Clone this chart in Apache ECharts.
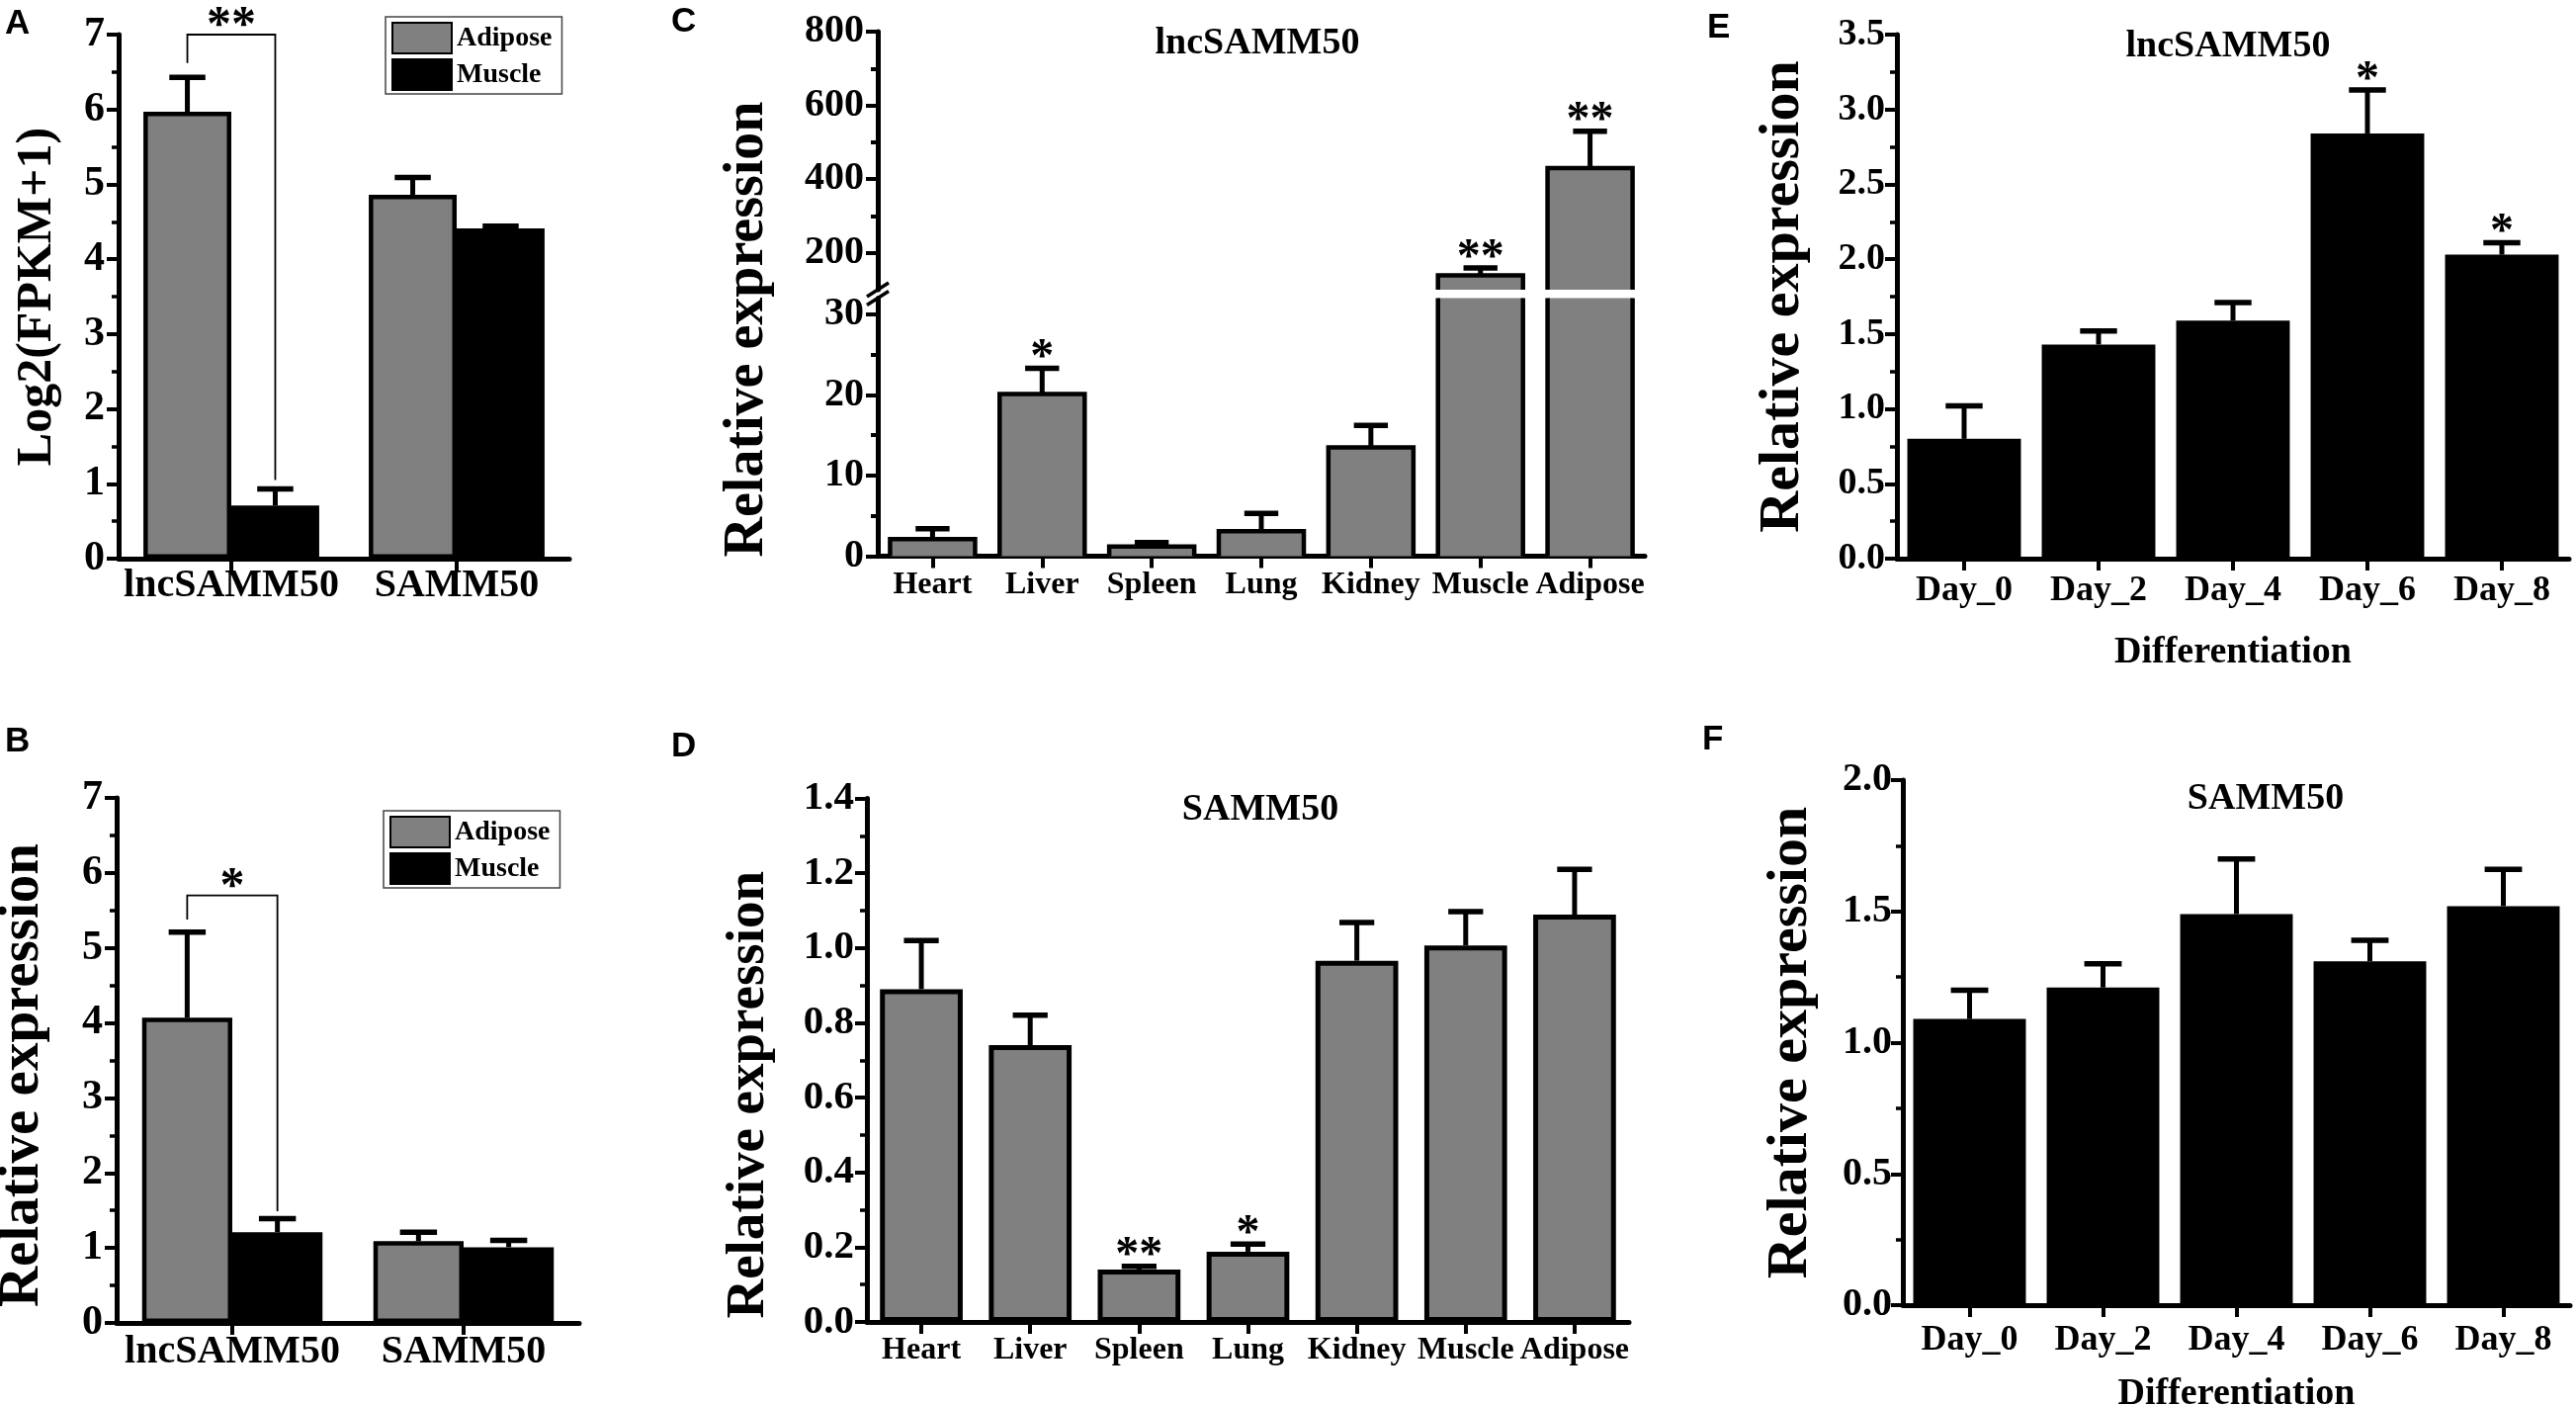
<!DOCTYPE html>
<html>
<head>
<meta charset="utf-8">
<title>lncSAMM50 and SAMM50 expression</title>
<script src="https://cdn.jsdelivr.net/npm/echarts@6/dist/echarts.min.js"></script>
<style>
  html, body { margin: 0; padding: 0; background: #fff; }
  #main { width: 2606px; height: 1422px; }
</style>
</head>
<body>
<div id="main"></div>
<script>
// A: RNA-seq, Log2(FPKM+1)
const geneCats = ['lncSAMM50', 'SAMM50'];
const fpkmAdipose = [5.97, 4.86];
const fpkmAdiposeErr = [0.46, 0.23];
const fpkmMuscle = [0.71, 4.41];
const fpkmMuscleErr = [0.22, 0.03];
const bracketA = [7.0, 6.62, 1.05]; // top, left foot, right foot

// B: qPCR, adipose vs muscle
const qpcrAdipose = [4.07, 1.09];
const qpcrAdiposeErr = [1.14, 0.12];
const qpcrMuscle = [1.21, 1.01];
const qpcrMuscleErr = [0.18, 0.09];
const bracketB = [5.70, 5.38, 1.49];

// C / D: tissue distribution
const tissues = ['Heart', 'Liver', 'Spleen', 'Lung', 'Kidney', 'Muscle', 'Adipose'];
const lncTissue = [2.1, 20.1, 1.2, 3.1, 13.5, 139, 430];
const lncTissueErr = [1.3, 3.2, 0.5, 2.2, 2.7, 20, 100];
const lncTissueSig = ['', '*', '', '', '', '**', '**'];
const cLowerMax = 32;   // top of the lower axis segment
const cUpperMin = 100;  // bottom of the upper axis segment
const cUpperTicks = [200, 400, 600, 800];
const cUpperMinor = [300, 500, 700];
const cLowerTicks = [0, 10, 20, 30];
const cLowerMinor = [5, 15, 25];

const samTissue = [0.89, 0.74, 0.14, 0.188, 0.966, 1.007, 1.089];
const samTissueErr = [0.13, 0.08, 0.009, 0.02, 0.102, 0.09, 0.121];
const samTissueSig = ['', '', '**', '*', '', '', ''];

// E / F: adipocyte differentiation
const days = ['Day_0', 'Day_2', 'Day_4', 'Day_6', 'Day_8'];
const lncDiff = [0.80, 1.43, 1.59, 2.84, 2.03];
const lncDiffErr = [0.22, 0.09, 0.12, 0.29, 0.08];
const lncDiffSig = ['', '', '', '*', '*'];
const samDiff = [1.09, 1.21, 1.49, 1.31, 1.52];
const samDiffErr = [0.11, 0.09, 0.21, 0.08, 0.14];

const SERIF = '"Liberation Serif", "Times New Roman", serif';
const SANS = '"Liberation Sans", Arial, sans-serif';
const GRAY = '#808080';
const INK = '#000';

function txt(size) {
  return { color: INK, fontFamily: SERIF, fontWeight: 'bold', fontSize: size };
}

function rows(vals, errs) {
  return vals.map((v, i) => [i, v, errs[i]]);
}

function catAxis(grid, data, size, margin, more) {
  return Object.assign({
    type: 'category', gridIndex: grid, data: data,
    axisLine: { show: true, lineStyle: { color: INK, width: 5 } },
    axisTick: { show: true, alignWithLabel: true, length: 12, lineStyle: { color: INK, width: 4 } },
    axisLabel: Object.assign(txt(size), { margin: margin, interval: 0 }),
    splitLine: { show: false }
  }, more || {});
}

function valAxis(grid, o) {
  return {
    type: 'value', gridIndex: grid, position: 'left',
    min: o.min, max: o.max, interval: o.interval,
    name: o.name || '', nameLocation: 'middle', nameRotate: 90, nameGap: o.nameGap || 0,
    nameTextStyle: Object.assign(txt(o.nameSize || 50), { padding: o.namePad || 0 }),
    axisLine: { show: o.line !== false, lineStyle: { color: INK, width: 5 } },
    axisTick: { show: true, length: o.tickLen || 12, lineStyle: { color: INK, width: 4 }, customValues: o.ticks },
    minorTick: { show: !!o.minor, splitNumber: 2, length: 7, lineStyle: { color: INK, width: 3.5 } },
    axisLabel: Object.assign(txt(o.labelSize || 40), {
      show: o.labels !== false, margin: o.margin || 14, formatter: o.fmt, customValues: o.labelValues
    }),
    splitLine: { show: false }
  };
}

// upper error bar with cap, optional significance mark above the cap
function errorBar(offset, capFrac, marks, markSize) {
  return function (params, api) {
    const i = api.value(0), v = api.value(1), e = api.value(2);
    const catW = api.size([1, 0])[0];
    const low = api.coord([i, v]);
    const high = api.coord([i, v + e]);
    const x = low[0] + offset * catW;
    const half = capFrac * catW / 2;
    const parts = [
      { type: 'line', shape: { x1: x, y1: low[1], x2: x, y2: high[1] }, style: { stroke: INK, lineWidth: 5 } },
      { type: 'line', shape: { x1: x - half, y1: high[1], x2: x + half, y2: high[1] }, style: { stroke: INK, lineWidth: 5.5 } }
    ];
    const mark = marks ? marks[i] : '';
    if (mark) {
      parts.push({
        type: 'text', x: x, y: high[1] - 7 - 0.06 * markSize,
        style: { text: mark, fill: INK, font: 'bold ' + markSize + 'px ' + SERIF, align: 'center', verticalAlign: 'middle' }
      });
    }
    return { type: 'group', children: parts };
  };
}

// bracket between the two bars of one category
function bracket(offset, mark, markSize) {
  return function (params, api) {
    const i = api.value(0);
    const top = api.coord([i, api.value(1)]);
    const footL = api.coord([i, api.value(2)])[1];
    const footR = api.coord([i, api.value(3)])[1];
    const catW = api.size([1, 0])[0];
    const xl = top[0] - offset * catW, xr = top[0] + offset * catW;
    return {
      type: 'group', children: [
        { type: 'polyline', shape: { points: [[xl, footL], [xl, top[1]], [xr, top[1]], [xr, footR]] },
          style: { stroke: INK, lineWidth: 1.8, fill: 'none' } },
        { type: 'text', x: (xl + xr) / 2, y: top[1] - 5 - 0.06 * markSize,
          style: { text: mark, fill: INK, font: 'bold ' + markSize + 'px ' + SERIF, align: 'center', verticalAlign: 'middle' } }
      ]
    };
  };
}

// bar clipped to its grid without drawing an outline on the cut edge (broken axis)
function brokenBar(widthFrac) {
  return function (params, api) {
    const i = api.value(0), v = api.value(1);
    const cs = params.coordSys;
    const w = api.size([1, 0])[0] * widthFrac;
    const base = api.coord([i, 0]);
    const peak = api.coord([i, v]);
    const x0 = base[0] - w / 2, x1 = base[0] + w / 2;
    const yBottom = Math.min(base[1], cs.y + cs.height);
    const yTop = Math.max(peak[1], cs.y);
    if (yTop >= yBottom) return null;
    const edge = { stroke: INK, lineWidth: 4.5, fill: 'none' };
    const outline = peak[1] < cs.y
      ? [{ type: 'line', shape: { x1: x0, y1: yBottom, x2: x0, y2: yTop }, style: edge },
         { type: 'line', shape: { x1: x1, y1: yBottom, x2: x1, y2: yTop }, style: edge }]
      : [{ type: 'polyline', shape: { points: [[x0, yBottom], [x0, yTop], [x1, yTop], [x1, yBottom]] }, style: edge }];
    return {
      type: 'group',
      children: [{ type: 'rect', shape: { x: x0, y: yTop, width: w, height: yBottom - yTop }, style: { fill: GRAY } }].concat(outline)
    };
  };
}

const fmt1 = v => v.toFixed(1);
const lncTissueRows = rows(lncTissue, lncTissueErr);

function grid(left, top, width, height) {
  return { left: left, top: top, width: width, height: height, containLabel: false, outerBoundsMode: 'none' };
}

function label(text, x, y, font, align) {
  return { type: 'text', x: x, y: y, style: { text: text, font: font, fill: INK, align: align || 'left', verticalAlign: 'top' } };
}

const letterFont = 'bold 35px ' + SANS;
const titleFont = 'bold 38px ' + SERIF;

const legendBase = {
  orient: 'vertical', data: ['Adipose', 'Muscle'], icon: 'rect',
  itemWidth: 60, itemHeight: 31, itemGap: 4, padding: [5, 10, 3, 6],
  borderColor: '#444', borderWidth: 1.5, selectedMode: false,
  textStyle: txt(28)
};

const option = {
  animation: false,
  backgroundColor: '#fff',
  grid: [
    grid(120, 35, 456, 530),      // A
    grid(118, 807, 468, 531),     // B
    grid(888, 32, 776, 261),      // C upper segment
    grid(888, 301.5, 776, 261),   // C lower segment
    grid(877, 807.5, 771, 529.5), // D
    grid(1919, 35, 680, 530),     // E
    grid(1925, 789, 675, 531)     // F
  ],
  legend: [
    Object.assign({ left: 390, top: 17 }, legendBase),
    Object.assign({ left: 388, top: 820 }, legendBase)
  ],
  xAxis: [
    catAxis(0, geneCats, 40, 8),
    catAxis(1, geneCats, 40, 10),
    catAxis(2, tissues, 32, 13, { show: false }),
    catAxis(3, tissues, 32, 13),
    catAxis(4, tissues, 32, 13),
    catAxis(5, days, 36, 15, { name: 'Differentiation', nameLocation: 'middle', nameGap: 76, nameTextStyle: txt(38) }),
    catAxis(6, days, 36, 18, { name: 'Differentiation', nameLocation: 'middle', nameGap: 71, nameTextStyle: txt(38) })
  ],
  yAxis: [
    valAxis(0, { min: 0, max: 7, interval: 1, minor: true, name: 'Log2(FPKM+1)', nameSize: 50, nameGap: 57, labelSize: 42, margin: 14 }),
    valAxis(1, { min: 0, max: 7, interval: 1, minor: true, name: 'Relative expression', nameSize: 57, nameGap: 66,
      namePad: [0, 30, 0, 0], labelSize: 42, margin: 14 }),
    valAxis(2, { min: cUpperMin, max: 800, ticks: cUpperTicks, labelValues: cUpperTicks, labelSize: 40, margin: 14 }),
    valAxis(3, { min: 0, max: cLowerMax, ticks: cLowerTicks, labelValues: cLowerTicks, labelSize: 40, margin: 14,
      name: 'Relative expression', nameSize: 56, nameGap: 103, namePad: [0, 0, 0, 198] }),
    valAxis(4, { min: 0, max: 1.4, interval: 0.2, minor: true, fmt: fmt1, labelSize: 41, margin: 13,
      name: 'Relative expression', nameSize: 55, nameGap: 92, namePad: [0, 70, 0, 0] }),
    valAxis(5, { min: 0, max: 3.5, interval: 0.5, minor: true, fmt: fmt1, labelSize: 38, margin: 12,
      name: 'Relative expression', nameSize: 58, nameGap: 86 }),
    valAxis(6, { min: 0, max: 2, interval: 0.5, minor: true, fmt: fmt1, labelSize: 40, margin: 11,
      name: 'Relative expression', nameSize: 58, nameGap: 84 }),
    valAxis(2, { min: cUpperMin, max: 800, line: false, labels: false, ticks: cUpperMinor, tickLen: 7 }),
    valAxis(3, { min: 0, max: cLowerMax, line: false, labels: false, ticks: cLowerMinor, tickLen: 7 })
  ],
  series: [
    // A
    { name: 'Adipose', type: 'bar', xAxisIndex: 0, yAxisIndex: 0, data: fpkmAdipose, barGap: '0%', barCategoryGap: '22%',
      itemStyle: { color: GRAY, borderColor: INK, borderWidth: 4.5 } },
    { name: 'Muscle', type: 'bar', xAxisIndex: 0, yAxisIndex: 0, data: fpkmMuscle, barGap: '0%', barCategoryGap: '22%',
      itemStyle: { color: INK, borderColor: INK, borderWidth: 4.5 } },
    { type: 'custom', xAxisIndex: 0, yAxisIndex: 0, z: 3, renderItem: errorBar(-0.195, 0.16), data: rows(fpkmAdipose, fpkmAdiposeErr) },
    { type: 'custom', xAxisIndex: 0, yAxisIndex: 0, z: 3, renderItem: errorBar(0.195, 0.16), data: rows(fpkmMuscle, fpkmMuscleErr) },
    { type: 'custom', xAxisIndex: 0, yAxisIndex: 0, z: 3, renderItem: bracket(0.195, '**', 50), data: [[0].concat(bracketA)] },
    // B
    { name: 'Adipose', type: 'bar', xAxisIndex: 1, yAxisIndex: 1, data: qpcrAdipose, barGap: '0%', barCategoryGap: '22%',
      itemStyle: { color: GRAY, borderColor: INK, borderWidth: 4.5 } },
    { name: 'Muscle', type: 'bar', xAxisIndex: 1, yAxisIndex: 1, data: qpcrMuscle, barGap: '0%', barCategoryGap: '22%',
      itemStyle: { color: INK, borderColor: INK, borderWidth: 4.5 } },
    { type: 'custom', xAxisIndex: 1, yAxisIndex: 1, z: 3, renderItem: errorBar(-0.195, 0.16), data: rows(qpcrAdipose, qpcrAdiposeErr) },
    { type: 'custom', xAxisIndex: 1, yAxisIndex: 1, z: 3, renderItem: errorBar(0.195, 0.16), data: rows(qpcrMuscle, qpcrMuscleErr) },
    { type: 'custom', xAxisIndex: 1, yAxisIndex: 1, z: 3, renderItem: bracket(0.195, '*', 50), data: [[0].concat(bracketB)] },
    // C (broken axis: two segments)
    { type: 'custom', xAxisIndex: 2, yAxisIndex: 2, renderItem: brokenBar(0.776), data: lncTissue.map((v, i) => [i, v]) },
    { type: 'custom', xAxisIndex: 3, yAxisIndex: 3, renderItem: brokenBar(0.776), data: lncTissue.map((v, i) => [i, v]) },
    { type: 'custom', xAxisIndex: 2, yAxisIndex: 2, z: 3, renderItem: errorBar(0, 0.31, lncTissueSig, 48),
      data: lncTissueRows.filter(r => r[1] > cLowerMax) },
    { type: 'custom', xAxisIndex: 3, yAxisIndex: 3, z: 3, renderItem: errorBar(0, 0.31, lncTissueSig, 48),
      data: lncTissueRows.filter(r => r[1] <= cLowerMax) },
    // D
    { name: 'SAMM50 tissues', type: 'bar', xAxisIndex: 4, yAxisIndex: 4, data: samTissue, barCategoryGap: '24%',
      itemStyle: { color: GRAY, borderColor: INK, borderWidth: 5 } },
    { type: 'custom', xAxisIndex: 4, yAxisIndex: 4, z: 3, renderItem: errorBar(0, 0.32, samTissueSig, 48), data: rows(samTissue, samTissueErr) },
    // E
    { name: 'lncSAMM50 differentiation', type: 'bar', xAxisIndex: 5, yAxisIndex: 5, data: lncDiff, barCategoryGap: '15.5%',
      itemStyle: { color: INK } },
    { type: 'custom', xAxisIndex: 5, yAxisIndex: 5, z: 3, renderItem: errorBar(0, 0.275, lncDiffSig, 48), data: rows(lncDiff, lncDiffErr) },
    // F
    { name: 'SAMM50 differentiation', type: 'bar', xAxisIndex: 6, yAxisIndex: 6, data: samDiff, barCategoryGap: '15.6%',
      itemStyle: { color: INK } },
    { type: 'custom', xAxisIndex: 6, yAxisIndex: 6, z: 3, renderItem: errorBar(0, 0.28), data: rows(samDiff, samDiffErr) }
  ],
  graphic: [
    label('A', 5, 7, letterFont),
    label('B', 5, 733, letterFont),
    label('C', 679, 5, letterFont),
    label('D', 679, 738, letterFont),
    label('E', 1727, 11, letterFont),
    label('F', 1722, 731, letterFont),
    label('lncSAMM50', 1272, 25, titleFont, 'center'),
    label('SAMM50', 1275, 800, titleFont, 'center'),
    label('lncSAMM50', 2254, 28, titleFont, 'center'),
    label('SAMM50', 2292, 789, titleFont, 'center'),
    // axis break marks on panel C
    { type: 'line', shape: { x1: 877, y1: 300, x2: 899, y2: 286 }, style: { stroke: INK, lineWidth: 3.5 } },
    { type: 'line', shape: { x1: 877, y1: 308.5, x2: 899, y2: 294.5 }, style: { stroke: INK, lineWidth: 3.5 } }
  ]
};

const chart = echarts.init(document.getElementById('main'));
chart.setOption(option);
</script>
</body>
</html>
